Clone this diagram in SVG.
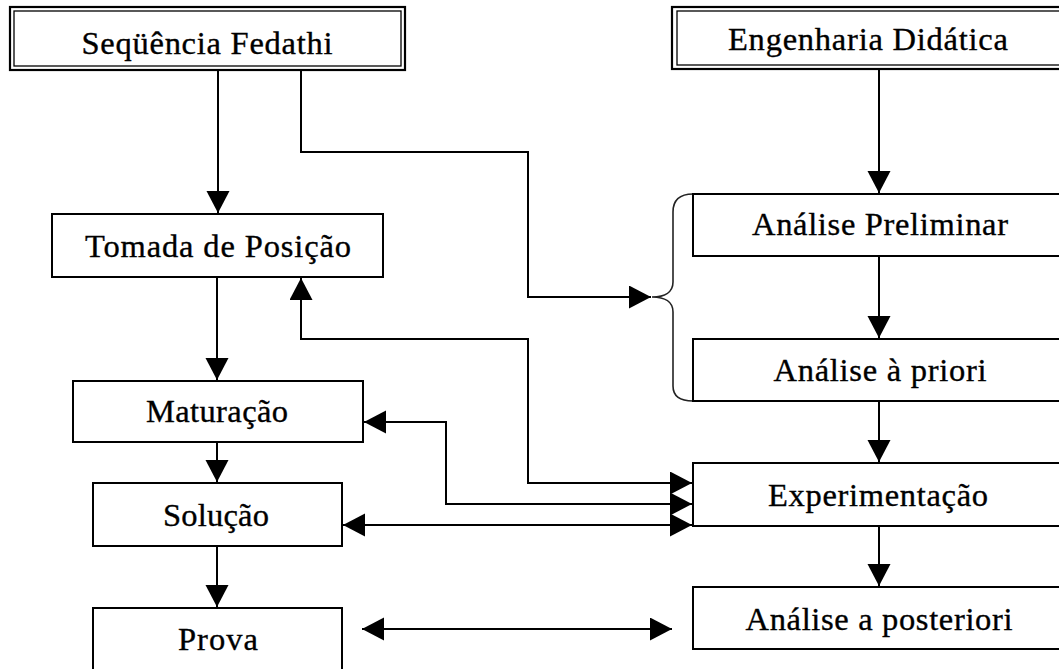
<svg xmlns="http://www.w3.org/2000/svg" width="1059" height="669" viewBox="0 0 1059 669">
<style>
.box{fill:#fff;stroke:#000;stroke-width:2}
.outer{fill:#fff;stroke:#000;stroke-width:2.2}
.inner{fill:none;stroke:#000;stroke-width:1.3}
.t{font-family:"Liberation Serif","Times New Roman",serif;font-size:32.5px;fill:#000;stroke:#000;stroke-width:0.35;text-anchor:middle}
.c{fill:none;stroke:#000;stroke-width:2}
.brace{fill:none;stroke:#222;stroke-width:1.6}
</style>
<defs>
<marker id="ah" markerUnits="userSpaceOnUse" markerWidth="23" markerHeight="24" refX="22" refY="11.5" orient="auto-start-reverse" viewBox="0 0 23 24">
<path d="M0,0 L22,11.5 L0,23 Z" fill="#000"/>
</marker>
</defs>
<rect width="1059" height="669" fill="#fff"/>
<g id="connectors">
<path class="c" d="M218,70 V213" marker-end="url(#ah)"/>
<path class="c" d="M301,70 V152 H528 V297 H651" marker-end="url(#ah)"/>
<path class="c" d="M879,70 V193" marker-end="url(#ah)"/>
<path class="c" d="M879,256 V338" marker-end="url(#ah)"/>
<path class="c" d="M879,401 V462" marker-end="url(#ah)"/>
<path class="c" d="M879,526 V586" marker-end="url(#ah)"/>
<path class="c" d="M217,277 V380" marker-end="url(#ah)"/>
<path class="c" d="M217,442 V482" marker-end="url(#ah)"/>
<path class="c" d="M217,546 V607" marker-end="url(#ah)"/>
<path class="c" d="M301,278 V339 H528 V483 H692" marker-start="url(#ah)" marker-end="url(#ah)"/>
<path class="c" d="M364,422 H446 V504 H692" marker-start="url(#ah)" marker-end="url(#ah)"/>
<path class="c" d="M343,525 H692" marker-start="url(#ah)" marker-end="url(#ah)"/>
<path class="c" d="M362,629 H672" marker-start="url(#ah)" marker-end="url(#ah)"/>
<path class="brace" d="M693,194 C680,194 673,200 673,212 V282 C673,292 665,297 652,297 C665,297 673,302 673,312 V386 C673,396 680,401 693,401"/>
</g>
<g id="seq">
<rect class="outer" x="10" y="7" width="395" height="63"/>
<rect class="inner" x="14" y="11" width="387" height="55"/>
<text class="t" x="207" y="54" textLength="251" lengthAdjust="spacing">Seqüência Fedathi</text>
</g>
<g id="eng">
<rect class="outer" x="672" y="7" width="393" height="62"/>
<rect class="inner" x="677" y="11" width="383" height="54"/>
<text class="t" x="868" y="50" textLength="280" lengthAdjust="spacing">Engenharia Didática</text>
</g>
<g id="tomada">
<rect class="box" x="52" y="214" width="331" height="63"/>
<text class="t" x="218" y="257" textLength="266" lengthAdjust="spacing">Tomada de Posição</text>
</g>
<g id="maturacao">
<rect class="box" x="73" y="381" width="290" height="61"/>
<text class="t" x="217" y="422" textLength="142" lengthAdjust="spacing">Maturação</text>
</g>
<g id="solucao">
<rect class="box" x="93" y="483" width="249" height="63"/>
<text class="t" x="216" y="526" textLength="106" lengthAdjust="spacing">Solução</text>
</g>
<g id="prova">
<rect class="box" x="93" y="608" width="249" height="80"/>
<text class="t" x="218" y="650" textLength="80" lengthAdjust="spacing">Prova</text>
</g>
<g id="preliminar">
<rect class="box" x="693" y="194" width="380" height="62"/>
<text class="t" x="880" y="235" textLength="256" lengthAdjust="spacing">Análise Preliminar</text>
</g>
<g id="priori">
<rect class="box" x="693" y="339" width="380" height="62"/>
<text class="t" x="880" y="381" textLength="213" lengthAdjust="spacing">Análise à priori</text>
</g>
<g id="experimentacao">
<rect class="box" x="693" y="463" width="380" height="63"/>
<text class="t" x="878" y="506" textLength="220" lengthAdjust="spacing">Experimentação</text>
</g>
<g id="posteriori">
<rect class="box" x="693" y="587" width="380" height="62"/>
<text class="t" x="879" y="630" textLength="267" lengthAdjust="spacing">Análise a posteriori</text>
</g>
</svg>
